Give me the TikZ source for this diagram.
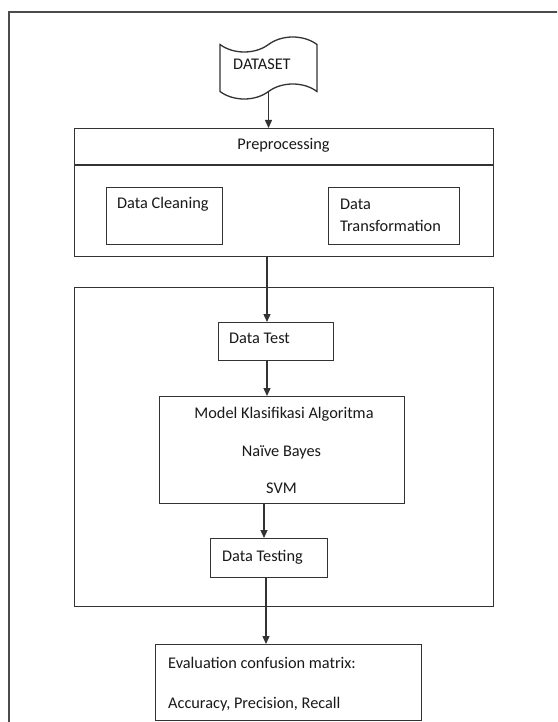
\documentclass[tikz,border=0pt]{standalone}
\usepackage{fontspec}
\setmainfont{Carlito}
\usetikzlibrary{shapes.symbols,arrows.meta,calc}
\begin{document}
\begin{tikzpicture}[x=1pt,y=-1pt,
  line/.style={draw=black!80,line width=1.3pt},
  box/.style={line,rectangle,inner sep=0pt,anchor=north west},
  lbl/.style={inner sep=0pt,font=\fontsize{16.3}{20}\selectfont,text=black!90},
  arr/.style={line,-{Triangle[width=7pt,length=8pt]}}]
\useasboundingbox (0,0) rectangle (557,722);
\clip (0,0) rectangle (557,722);
\fill[white] (0,0) rectangle (557,722);
% outer frame
\draw[line width=1.8pt,draw=black!70] (9,12) rectangle (640,800);
% dataset
\node[tape,line,minimum width=97pt,minimum height=62pt,tape bend height=15pt,inner sep=0pt] (ds) at (268.5,68) {};
\node[lbl,anchor=base west] (dstxt) at (233,69.5) {DATASET};
% preprocessing
\node[box,minimum width=419pt,minimum height=128pt] (pre) at (74,128) {};
\draw[line] ($(pre.north west)+(0,37)$) -- ($(pre.north east)+(0,37)$);
\node[lbl,anchor=base] (pretxt) at (283.5,150) {Preprocessing};
\node[box,minimum width=116pt,minimum height=57pt] (dc) at (106,187) {};
\node[lbl,anchor=base west] (dctxt) at (117,208) {Data Cleaning};
\node[box,minimum width=131pt,minimum height=57pt] (dtr) at (328,187) {};
\node[lbl,anchor=base west,align=left] (dtrtxt1) at (340,209) {Data};
\node[lbl,anchor=base west,align=left] (dtrtxt2) at (340,231) {Transformation};
% group
\node[box,minimum width=419pt,minimum height=319pt] (grp) at (73.5,287) {};
\node[box,minimum width=115pt,minimum height=38pt] (dt) at (218,322) {};
\node[lbl,anchor=base west] (dttxt) at (229,343) {Data Test};
\node[box,minimum width=245pt,minimum height=107pt] (mdl) at (159,396) {};
\node[lbl,anchor=base] (m1) at (284,418) {Model Klasifikasi Algoritma};
\node[lbl,anchor=base] (m2) at (281.5,456) {Naïve Bayes};
\node[lbl,anchor=base] (m3) at (281.5,493) {SVM};
\node[box,minimum width=117pt,minimum height=39pt] (dts) at (210,538) {};
\node[lbl,anchor=base west] (dtstxt) at (222,561) {Data Testing};
% evaluation
\node[box,minimum width=266pt,minimum height=76pt] (ev) at (155,644) {};
\node[lbl,anchor=base west] (ev1) at (168,668) {Evaluation confusion matrix:};
\node[lbl,anchor=base west] (ev2) at (168,708) {Accuracy, Precision, Recall};
% arrows
\coordinate (x1) at (267,0);
\coordinate (x2) at (264,0);
\coordinate (x3) at (266,0);
\draw[arr] (ds.south) -- (ds.south |- pre.north);
\draw[arr] (pre.south -| x1) -- (dt.north -| x1);
\draw[arr] (dt.south -| x1) -- (mdl.north -| x1);
\draw[arr] (mdl.south -| x2) -- (dts.north -| x2);
\draw[arr] (dts.south -| x3) -- (ev.north -| x3);
\end{tikzpicture}
\end{document}
